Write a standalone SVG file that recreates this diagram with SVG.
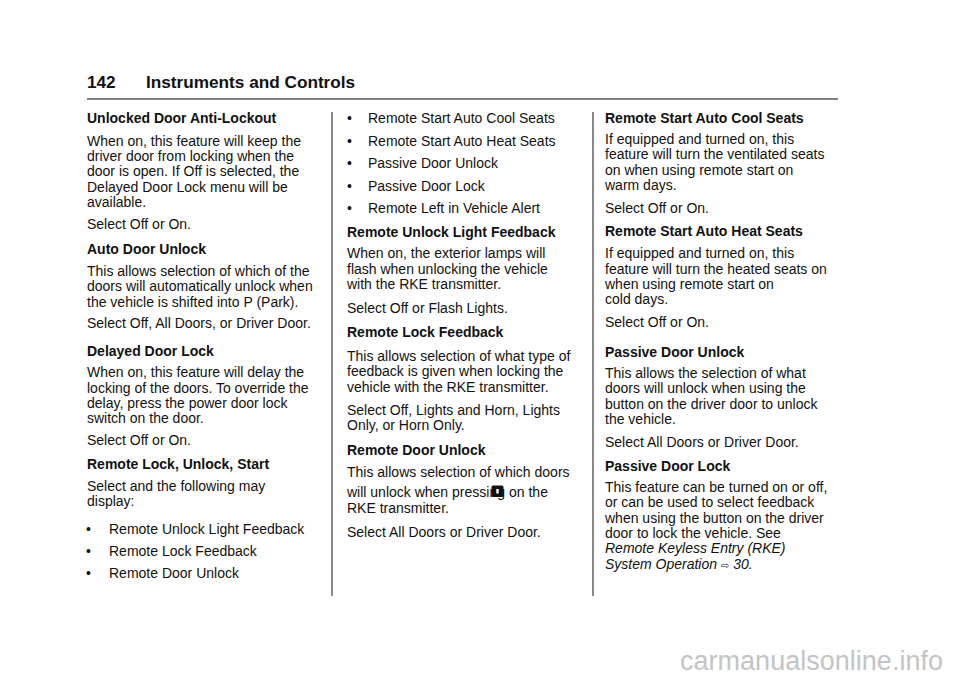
<svg xmlns="http://www.w3.org/2000/svg" width="960" height="678" viewBox="0 0 960 678">
<style>
text{font-family:"Liberation Sans",Arial,sans-serif;font-size:14px;fill:#111}
.b{font-weight:bold}
.i{font-style:italic}
.h{font-size:17.2px;font-weight:bold}
.wm{font-size:27px;fill:#c4c4c4}
</style>
<rect width="960" height="678" fill="#fff"/>
<g id="header">
<text class="h" x="87" y="87.5">142</text>
<text class="h" x="146" y="87.5">Instruments and Controls</text>
<line x1="87" y1="99" x2="838" y2="99" stroke="#555" stroke-width="1.3"/>
</g>
<g id="dividers" stroke="#888" stroke-width="2">
<line x1="332" y1="112" x2="332" y2="596"/>
<line x1="593" y1="112" x2="593" y2="596"/>
</g>
<g id="col1">
<text class="b" x="87" y="123">Unlocked Door Anti-Lockout</text>
<text x="87" y="145.7">When on, this feature will keep the</text>
<text x="87" y="161">driver door from locking when the</text>
<text x="87" y="176.3">door is open. If Off is selected, the</text>
<text x="87" y="191.7">Delayed Door Lock menu will be</text>
<text x="87" y="207">available.</text>
<text x="87" y="228.7">Select Off or On.</text>
<text class="b" x="87" y="254">Auto Door Unlock</text>
<text x="87" y="276">This allows selection of which of the</text>
<text x="87" y="291.3">doors will automatically unlock when</text>
<text x="87" y="306.7">the vehicle is shifted into P (Park).</text>
<text x="87" y="328.3">Select Off, All Doors, or Driver Door.</text>
<text class="b" x="87" y="355.5">Delayed Door Lock</text>
<text x="87" y="377.3">When on, this feature will delay the</text>
<text x="87" y="392.7">locking of the doors. To override the</text>
<text x="87" y="408">delay, press the power door lock</text>
<text x="87" y="423.3">switch on the door.</text>
<text x="87" y="445">Select Off or On.</text>
<text class="b" x="87" y="469.3">Remote Lock, Unlock, Start</text>
<text x="87" y="491">Select and the following may</text>
<text x="87" y="506.3">display:</text>
<text x="86" y="533.5">•</text><text x="109" y="533.5">Remote Unlock Light Feedback</text>
<text x="86" y="555.5">•</text><text x="109" y="555.5">Remote Lock Feedback</text>
<text x="86" y="577.5">•</text><text x="109" y="577.5">Remote Door Unlock</text>
</g>
<g id="col2">
<text x="347" y="122.7">•</text><text x="368" y="122.7">Remote Start Auto Cool Seats</text>
<text x="347" y="145.7">•</text><text x="368" y="145.7">Remote Start Auto Heat Seats</text>
<text x="347" y="167.7">•</text><text x="368" y="167.7">Passive Door Unlock</text>
<text x="347" y="190.7">•</text><text x="368" y="190.7">Passive Door Lock</text>
<text x="347" y="212.7">•</text><text x="368" y="212.7">Remote Left in Vehicle Alert</text>
<text class="b" x="347" y="237.3">Remote Unlock Light Feedback</text>
<text x="347" y="258.3">When on, the exterior lamps will</text>
<text x="347" y="273.7">flash when unlocking the vehicle</text>
<text x="347" y="289">with the RKE transmitter.</text>
<text x="347" y="312.7">Select Off or Flash Lights.</text>
<text class="b" x="347" y="337.3">Remote Lock Feedback</text>
<text x="347" y="360.7">This allows selection of what type of</text>
<text x="347" y="376">feedback is given when locking the</text>
<text x="347" y="391.7">vehicle with the RKE transmitter.</text>
<text x="347" y="415">Select Off, Lights and Horn, Lights</text>
<text x="347" y="430">Only, or Horn Only.</text>
<text class="b" x="347" y="455">Remote Door Unlock</text>
<text x="347" y="477.3">This allows selection of which doors</text>
<text x="347" y="496.7">will unlock when pressing</text>
<g id="unlock-icon">
<rect x="491.5" y="485.5" width="12" height="11.5" rx="1.5" fill="#111"/>
<rect x="496.3" y="489" width="2.4" height="4.5" fill="#fff"/>
</g>
<text x="509" y="496.7">on the</text>
<text x="347" y="512.7">RKE transmitter.</text>
<text x="347" y="536.7">Select All Doors or Driver Door.</text>
</g>
<g id="col3">
<text class="b" x="605" y="122.7">Remote Start Auto Cool Seats</text>
<text x="605" y="144">If equipped and turned on, this</text>
<text x="605" y="159.3">feature will turn the ventilated seats</text>
<text x="605" y="174.7">on when using remote start on</text>
<text x="605" y="190">warm days.</text>
<text x="605" y="212.7">Select Off or On.</text>
<text class="b" x="605" y="236">Remote Start Auto Heat Seats</text>
<text x="605" y="258.3">If equipped and turned on, this</text>
<text x="605" y="273.7">feature will turn the heated seats on</text>
<text x="605" y="289">when using remote start on</text>
<text x="605" y="304">cold days.</text>
<text x="605" y="326.7">Select Off or On.</text>
<text class="b" x="605" y="356.7">Passive Door Unlock</text>
<text x="605" y="378.3">This allows the selection of what</text>
<text x="605" y="393.3">doors will unlock when using the</text>
<text x="605" y="409">button on the driver door to unlock</text>
<text x="605" y="424.3">the vehicle.</text>
<text x="605" y="446.7">Select All Doors or Driver Door.</text>
<text class="b" x="605" y="471">Passive Door Lock</text>
<text x="605" y="491.7">This feature can be turned on or off,</text>
<text x="605" y="507.3">or can be used to select feedback</text>
<text x="605" y="522.7">when using the button on the driver</text>
<text x="605" y="538">door to lock the vehicle. See</text>
<text class="i" x="605" y="553.3">Remote Keyless Entry (RKE)</text>
<text class="i" x="605" y="568.7">System Operation <tspan style="font-family:'DejaVu Sans',sans-serif;font-style:normal;font-size:10px">⇨</tspan> 30.</text>
</g>
<text class="wm" x="680" y="670" textLength="263">carmanualsonline.info</text>
</svg>
